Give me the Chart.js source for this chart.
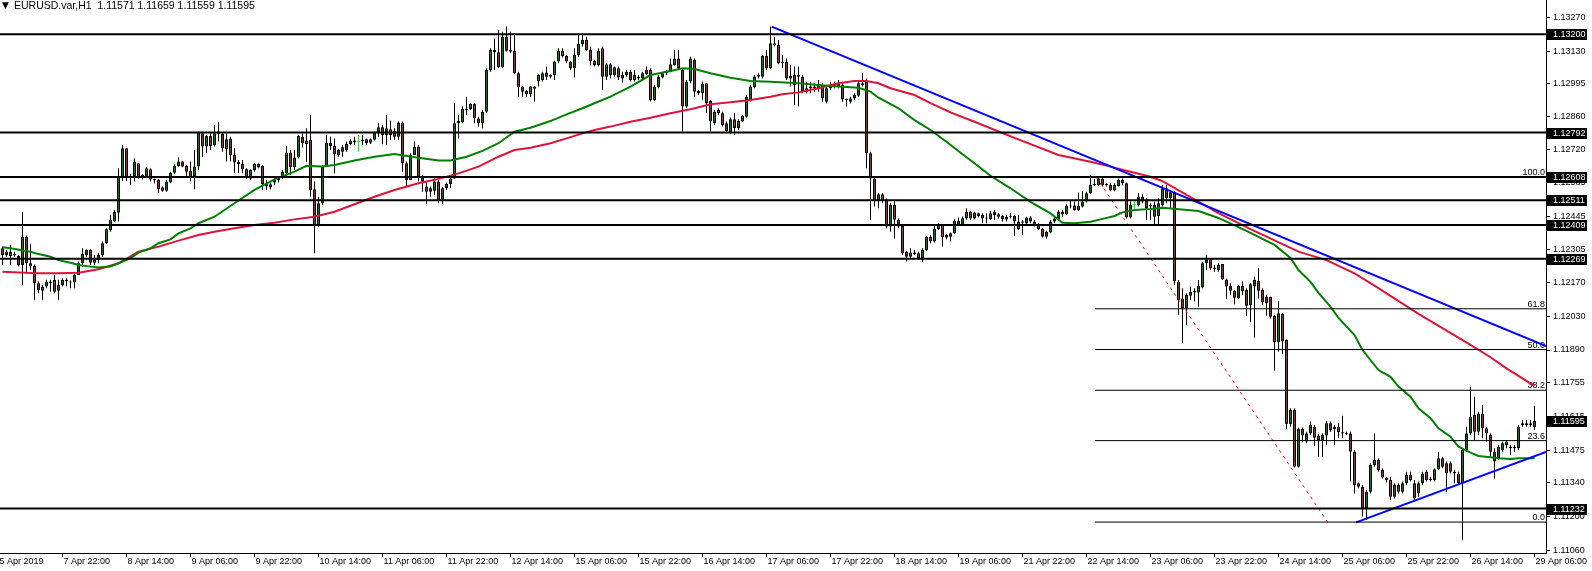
<!DOCTYPE html>
<html>
<head>
<meta charset="utf-8">
<script src="https://cdn.jsdelivr.net/npm/chart.js@4.4.0/dist/chart.umd.min.js"></script>
<style>
html, body { margin: 0; padding: 0; background: #fff; overflow: hidden; }
canvas { display: block; }
</style>
</head>
<body>
<canvas id="chart1" width="1592" height="571"></canvas>
<script>
// EURUSD H1 candles, one value per bar (bar 0 = left edge of the window)
const opens = [
1.12312,1.12298,1.12280,1.12288,1.12280,1.12243,1.12360,1.12250,1.12239,1.12167,
1.12136,1.12153,1.12174,1.12181,1.12136,1.12160,1.12181,1.12174,1.12170,1.12201,
1.12250,1.12284,1.12305,1.12252,1.12264,1.12284,1.12333,1.12388,1.12423,1.12460,
1.12609,1.12727,1.12609,1.12609,1.12665,1.12609,1.12609,1.12640,1.12598,1.12598,
1.12565,1.12551,1.12585,1.12626,1.12654,1.12672,1.12654,1.12633,1.12612,1.12651,
1.12789,1.12734,1.12778,1.12741,1.12796,1.12786,1.12723,1.12768,1.12699,1.12671,
1.12662,1.12640,1.12602,1.12637,1.12662,1.12654,1.12582,1.12565,1.12585,1.12595,
1.12605,1.12623,1.12710,1.12648,1.12689,1.12775,1.12759,1.12762,1.12557,1.12409,
1.12499,1.12654,1.12750,1.12737,1.12699,1.12731,1.12720,1.12745,1.12759,1.12753,
1.12757,1.12765,1.12750,1.12762,1.12792,1.12814,1.12782,1.12806,1.12800,1.12775,
1.12834,1.12665,1.12595,1.12699,1.12734,1.12609,1.12568,1.12561,1.12551,1.12589,
1.12513,1.12561,1.12578,1.12602,1.12831,1.12835,1.12890,1.12890,1.12911,1.12851,
1.12831,1.12879,1.13052,1.13135,1.13125,1.13063,1.13190,1.13135,1.13132,1.13038,
1.12983,1.12965,1.12952,1.12983,1.13004,1.13010,1.13041,1.13031,1.13031,1.13087,
1.13132,1.13110,1.13087,1.13059,1.13114,1.13160,1.13176,1.13135,1.13090,1.13073,
1.13142,1.13024,1.13076,1.13031,1.13059,1.13017,1.13031,1.13045,1.13010,1.13017,
1.13017,1.13052,1.13052,1.12927,1.12980,1.13021,1.13038,1.13045,1.13073,1.13100,
1.13052,1.12900,1.13004,1.13094,1.12965,1.12955,1.12997,1.12924,1.12831,1.12886,
1.12872,1.12831,1.12789,1.12848,1.12810,1.12838,1.12858,1.12927,1.12980,1.13024,
1.13024,1.13111,1.13059,1.13163,1.13156,1.13087,1.13086,1.13017,1.13031,1.13031,
1.13024,1.12962,1.12976,1.12983,1.12976,1.12990,1.12920,1.12976,1.12990,1.12983,
1.12990,1.12927,1.12920,1.12934,1.12945,1.12997,1.13003,1.12706,1.12602,1.12509,
1.12536,1.12515,1.12402,1.12492,1.12430,1.12406,1.12298,1.12277,1.12295,1.12291,
1.12270,1.12305,1.12360,1.12340,1.12392,1.12409,1.12357,1.12360,1.12374,1.12411,
1.12411,1.12437,1.12464,1.12436,1.12457,1.12450,1.12440,1.12434,1.12464,1.12453,
1.12446,1.12443,1.12446,1.12446,1.12423,1.12418,1.12416,1.12440,1.12423,1.12409,
1.12392,1.12360,1.12378,1.12423,1.12432,1.12464,1.12452,1.12490,1.12490,1.12489,
1.12485,1.12506,1.12540,1.12575,1.12575,1.12602,1.12575,1.12575,1.12553,1.12571,
1.12595,1.12582,1.12440,1.12492,1.12492,1.12526,1.12509,1.12485,1.12492,1.12446,
1.12492,1.12561,1.12520,1.12545,1.12174,1.12104,1.12063,1.12115,1.12129,1.12129,
1.12149,1.12250,1.12268,1.12232,1.12222,1.12247,1.12183,1.12156,1.12136,1.12104,
1.12156,1.12139,1.12077,1.12153,1.12176,1.12139,1.12111,1.12111,1.12031,1.11922,
1.12039,1.11932,1.11583,1.11641,1.11406,1.11562,1.11510,1.11544,1.11572,1.11535,
1.11517,1.11535,1.11586,1.11572,1.11572,1.11549,1.11544,1.11544,1.11468,1.11337,
1.11323,1.11233,1.11302,1.11413,1.11434,1.11392,1.11361,1.11351,1.11281,1.11330,
1.11302,1.11337,1.11371,1.11337,1.11295,1.11337,1.11385,1.11351,1.11351,1.11395,
1.11441,1.11420,1.11420,1.11385,1.11378,1.11337,1.11475,1.11544,1.11620,1.11551,
1.11627,1.11565,1.11537,1.11468,1.11441,1.11475,1.11510,1.11489,1.11482,1.11482,
1.11579,1.11586,1.11579,1.11571
];
const highs = [
1.12319,1.12305,1.12326,1.12298,1.12284,1.12464,1.12365,1.12330,1.12245,1.12174,
1.12160,1.12181,1.12181,1.12201,1.12181,1.12188,1.12188,1.12178,1.12205,1.12257,
1.12312,1.12308,1.12308,1.12284,1.12294,1.12340,1.12395,1.12450,1.12470,1.12644,
1.12741,1.12727,1.12620,1.12686,1.12665,1.12620,1.12650,1.12644,1.12602,1.12600,
1.12568,1.12595,1.12630,1.12661,1.12690,1.12675,1.12658,1.12672,1.12720,1.12796,
1.12796,1.12782,1.12789,1.12824,1.12835,1.12789,1.12789,1.12775,1.12727,1.12678,
1.12678,1.12644,1.12640,1.12665,1.12665,1.12658,1.12595,1.12585,1.12605,1.12612,
1.12637,1.12737,1.12720,1.12720,1.12782,1.12789,1.12810,1.12865,1.12589,1.12526,
1.12658,1.12782,1.12775,1.12768,1.12724,1.12741,1.12755,1.12765,1.12775,1.12782,
1.12782,1.12768,1.12768,1.12796,1.12831,1.12824,1.12865,1.12842,1.12810,1.12838,
1.12838,1.12672,1.12706,1.12755,1.12741,1.12616,1.12589,1.12568,1.12602,1.12595,
1.12565,1.12585,1.12616,1.12914,1.12865,1.12900,1.12941,1.12914,1.12914,1.12858,
1.12886,1.13059,1.13142,1.13183,1.13218,1.13211,1.13232,1.13211,1.13204,1.13045,
1.12985,1.12969,1.12985,1.12986,1.13034,1.13045,1.13066,1.13034,1.13090,1.13142,
1.13142,1.13114,1.13090,1.13142,1.13204,1.13204,1.13190,1.13149,1.13094,1.13142,
1.13149,1.13080,1.13080,1.13066,1.13066,1.13045,1.13052,1.13052,1.13052,1.13031,
1.13045,1.13066,1.13059,1.12990,1.13031,1.13045,1.13052,1.13100,1.13135,1.13135,
1.13059,1.13010,1.13107,1.13100,1.12969,1.13004,1.12997,1.12927,1.12886,1.12893,
1.12879,1.12838,1.12855,1.12872,1.12848,1.12865,1.12948,1.12990,1.13031,1.13038,
1.13114,1.13135,1.13232,1.13190,1.13176,1.13114,1.13100,1.13073,1.13066,1.13066,
1.13031,1.13003,1.13003,1.12997,1.13010,1.12997,1.12983,1.13003,1.13003,1.13010,
1.12997,1.12934,1.12941,1.12955,1.13003,1.13038,1.13017,1.12713,1.12609,1.12540,
1.12540,1.12519,1.12500,1.12509,1.12437,1.12409,1.12301,1.12312,1.12305,1.12298,
1.12312,1.12364,1.12367,1.12409,1.12416,1.12412,1.12371,1.12378,1.12433,1.12440,
1.12444,1.12478,1.12468,1.12464,1.12461,1.12457,1.12457,1.12468,1.12471,1.12457,
1.12450,1.12450,1.12457,1.12450,1.12450,1.12429,1.12443,1.12446,1.12429,1.12416,
1.12395,1.12385,1.12429,1.12443,1.12471,1.12471,1.12495,1.12512,1.12506,1.12544,
1.12550,1.12547,1.12616,1.12599,1.12612,1.12612,1.12582,1.12582,1.12582,1.12602,
1.12602,1.12585,1.12506,1.12506,1.12540,1.12536,1.12519,1.12499,1.12506,1.12519,
1.12575,1.12575,1.12555,1.12550,1.12180,1.12146,1.12125,1.12153,1.12146,1.12180,
1.12256,1.12284,1.12270,1.12243,1.12250,1.12247,1.12187,1.12167,1.12139,1.12160,
1.12174,1.12146,1.12167,1.12194,1.12229,1.12146,1.12118,1.12111,1.12035,1.12093,
1.12042,1.11934,1.11648,1.11648,1.11568,1.11568,1.11551,1.11593,1.11579,1.11540,
1.11544,1.11596,1.11593,1.11579,1.11586,1.11617,1.11551,1.11551,1.11475,1.11340,
1.11330,1.11309,1.11420,1.11544,1.11441,1.11399,1.11364,1.11364,1.11337,1.11337,
1.11344,1.11385,1.11385,1.11351,1.11344,1.11385,1.11392,1.11364,1.11399,1.11468,
1.11447,1.11427,1.11427,1.11392,1.11385,1.11482,1.11572,1.11738,1.11696,1.11634,
1.11662,1.11572,1.11544,1.11482,1.11496,1.11510,1.11517,1.11496,1.11496,1.11579,
1.11600,1.11600,1.11600,1.11659
];
const lows = [
1.12243,1.12277,1.12243,1.12277,1.12236,1.12160,1.12208,1.12222,1.12098,1.12125,
1.12098,1.12146,1.12132,1.12125,1.12098,1.12153,1.12153,1.12146,1.12146,1.12201,
1.12236,1.12277,1.12243,1.12243,1.12250,1.12277,1.12330,1.12381,1.12420,1.12423,
1.12591,1.12591,1.12575,1.12589,1.12602,1.12598,1.12605,1.12589,1.12582,1.12543,
1.12547,1.12547,1.12582,1.12620,1.12650,1.12648,1.12609,1.12589,1.12557,1.12637,
1.12692,1.12709,1.12720,1.12734,1.12755,1.12713,1.12672,1.12672,1.12626,1.12623,
1.12623,1.12602,1.12595,1.12630,1.12644,1.12554,1.12554,1.12557,1.12575,1.12585,
1.12602,1.12606,1.12616,1.12637,1.12685,1.12730,1.12671,1.12526,1.12291,1.12399,
1.12492,1.12651,1.12720,1.12623,1.12692,1.12692,1.12713,1.12740,1.12741,1.12713,
1.12741,1.12741,1.12745,1.12759,1.12775,1.12744,1.12741,1.12762,1.12762,1.12762,
1.12630,1.12568,1.12595,1.12699,1.12589,1.12547,1.12495,1.12526,1.12533,1.12499,
1.12496,1.12554,1.12561,1.12602,1.12768,1.12831,1.12865,1.12886,1.12831,1.12817,
1.12810,1.12872,1.13045,1.13052,1.13059,1.13059,1.13128,1.13121,1.13034,1.12941,
1.12941,1.12941,1.12941,1.12921,1.12983,1.13004,1.13010,1.13017,1.13010,1.13080,
1.13104,1.13080,1.13052,1.13021,1.13107,1.13149,1.13132,1.13070,1.13066,1.13066,
1.12969,1.13010,1.13017,1.13024,1.13010,1.13000,1.13024,1.13004,1.13004,1.13010,
1.13010,1.13031,1.12921,1.12924,1.12976,1.13017,1.13031,1.13042,1.13070,1.13052,
1.12796,1.12893,1.12997,1.12941,1.12948,1.12927,1.12872,1.12796,1.12824,1.12865,
1.12817,1.12789,1.12785,1.12782,1.12803,1.12835,1.12855,1.12921,1.12976,1.13017,
1.13017,1.13052,1.13056,1.13149,1.13076,1.13059,1.13010,1.12983,1.12907,1.12900,
1.12955,1.12955,1.12955,1.12962,1.12962,1.12920,1.12913,1.12969,1.12976,1.12976,
1.12920,1.12900,1.12913,1.12927,1.12941,1.12983,1.12644,1.12430,1.12485,1.12478,
1.12499,1.12395,1.12381,1.12353,1.12395,1.12284,1.12257,1.12273,1.12284,1.12264,
1.12254,1.12301,1.12333,1.12336,1.12388,1.12319,1.12350,1.12340,1.12371,1.12406,
1.12406,1.12430,1.12429,1.12432,1.12440,1.12416,1.12416,1.12429,1.12429,1.12436,
1.12423,1.12423,1.12436,1.12364,1.12388,1.12367,1.12409,1.12416,1.12402,1.12388,
1.12357,1.12353,1.12374,1.12416,1.12429,1.12443,1.12450,1.12478,1.12468,1.12467,
1.12481,1.12502,1.12537,1.12571,1.12571,1.12568,1.12568,1.12549,1.12549,1.12568,
1.12575,1.12436,1.12436,1.12471,1.12485,1.12499,1.12429,1.12429,1.12409,1.12412,
1.12485,1.12499,1.12478,1.12160,1.12035,1.11918,1.11994,1.12097,1.12091,1.12070,
1.12146,1.12222,1.12222,1.12215,1.12215,1.12180,1.12102,1.12118,1.12080,1.12102,
1.12118,1.12032,1.12005,1.11941,1.12104,1.12077,1.12032,1.12021,1.11804,1.11883,
1.11872,1.11562,1.11572,1.11402,1.11402,1.11507,1.11503,1.11537,1.11492,1.11448,
1.11445,1.11496,1.11551,1.11496,1.11524,1.11524,1.11537,1.11344,1.11295,1.11316,
1.11199,1.11185,1.11295,1.11406,1.11385,1.11357,1.11340,1.11268,1.11274,1.11295,
1.11295,1.11330,1.11344,1.11261,1.11281,1.11330,1.11344,1.11344,1.11344,1.11392,
1.11399,1.11302,1.11378,1.11337,1.11330,1.11102,1.11468,1.11537,1.11517,1.11537,
1.11524,1.11510,1.11447,1.11357,1.11434,1.11468,1.11482,1.11454,1.11468,1.11475,
1.11572,1.11572,1.11572,1.11559
];
const closes = [
1.12284,1.12284,1.12298,1.12282,1.12243,1.12360,1.12250,1.12236,1.12167,1.12139,
1.12153,1.12174,1.12167,1.12132,1.12160,1.12181,1.12174,1.12170,1.12201,1.12250,
1.12288,1.12305,1.12252,1.12270,1.12284,1.12333,1.12391,1.12430,1.12464,1.12609,
1.12727,1.12609,1.12612,1.12672,1.12609,1.12616,1.12644,1.12598,1.12595,1.12557,
1.12551,1.12589,1.12626,1.12654,1.12672,1.12651,1.12630,1.12609,1.12651,1.12792,
1.12734,1.12778,1.12737,1.12789,1.12786,1.12727,1.12765,1.12699,1.12668,1.12662,
1.12640,1.12609,1.12637,1.12662,1.12648,1.12579,1.12568,1.12578,1.12598,1.12605,
1.12630,1.12710,1.12648,1.12689,1.12778,1.12748,1.12745,1.12554,1.12409,1.12499,
1.12651,1.12750,1.12737,1.12703,1.12720,1.12713,1.12745,1.12759,1.12753,1.12753,
1.12762,1.12748,1.12765,1.12792,1.12814,1.12782,1.12810,1.12782,1.12775,1.12834,
1.12665,1.12595,1.12699,1.12734,1.12609,1.12589,1.12547,1.12547,1.12589,1.12513,
1.12561,1.12579,1.12602,1.12831,1.12841,1.12890,1.12886,1.12911,1.12851,1.12831,
1.12879,1.13052,1.13135,1.13125,1.13063,1.13190,1.13132,1.13128,1.13038,1.12980,
1.12962,1.12952,1.12983,1.12974,1.13031,1.13038,1.13024,1.13024,1.13087,1.13132,
1.13110,1.13087,1.13059,1.13114,1.13160,1.13176,1.13135,1.13087,1.13073,1.13132,
1.13024,1.13076,1.13031,1.13063,1.13021,1.13031,1.13045,1.13010,1.13031,1.13024,
1.13038,1.13034,1.12927,1.12983,1.13024,1.13038,1.13045,1.13076,1.13100,1.13059,
1.12900,1.13004,1.13100,1.12962,1.12955,1.12994,1.12914,1.12838,1.12879,1.12872,
1.12824,1.12799,1.12848,1.12810,1.12841,1.12862,1.12941,1.12983,1.13024,1.13031,
1.13111,1.13059,1.13163,1.13153,1.13080,1.13080,1.13017,1.13028,1.12990,1.13024,
1.12962,1.12976,1.12983,1.12976,1.12990,1.12934,1.12976,1.12990,1.12983,1.12997,
1.12931,1.12931,1.12934,1.12948,1.12997,1.12990,1.12706,1.12602,1.12512,1.12536,
1.12512,1.12402,1.12492,1.12430,1.12402,1.12291,1.12277,1.12295,1.12288,1.12270,
1.12305,1.12360,1.12340,1.12392,1.12409,1.12357,1.12367,1.12374,1.12425,1.12425,
1.12437,1.12464,1.12436,1.12461,1.12446,1.12436,1.12436,1.12457,1.12450,1.12443,
1.12434,1.12432,1.12443,1.12423,1.12392,1.12423,1.12440,1.12423,1.12409,1.12392,
1.12360,1.12381,1.12423,1.12436,1.12464,1.12452,1.12490,1.12485,1.12471,1.12471,
1.12506,1.12540,1.12575,1.12578,1.12602,1.12575,1.12578,1.12553,1.12575,1.12596,
1.12582,1.12440,1.12492,1.12492,1.12526,1.12506,1.12478,1.12492,1.12443,1.12499,
1.12561,1.12520,1.12545,1.12176,1.12097,1.12063,1.12118,1.12132,1.12135,1.12157,
1.12250,1.12273,1.12229,1.12226,1.12243,1.12183,1.12153,1.12136,1.12107,1.12156,
1.12135,1.12074,1.12163,1.12180,1.12136,1.12088,1.12084,1.12028,1.11922,1.12042,
1.11925,1.11583,1.11641,1.11406,1.11562,1.11535,1.11544,1.11579,1.11526,1.11517,
1.11537,1.11586,1.11558,1.11561,1.11549,1.11544,1.11540,1.11468,1.11330,1.11323,
1.11233,1.11302,1.11413,1.11434,1.11392,1.11361,1.11351,1.11281,1.11330,1.11302,
1.11337,1.11371,1.11351,1.11274,1.11337,1.11378,1.11351,1.11357,1.11395,1.11441,
1.11406,1.11378,1.11385,1.11378,1.11337,1.11475,1.11544,1.11613,1.11551,1.11627,
1.11565,1.11544,1.11468,1.11427,1.11489,1.11503,1.11496,1.11482,1.11489,1.11572,
1.11586,1.11579,1.11586,1.11595
];

// moving averages at these bars
const maGreenBars = [0,2,7,9,12,14,17,19,22,24,27,29,32,34,37,39,42,44,47,49,53,58,63,68,73,76,80,83,88,93,98,104,109,112,116,120,124,128,132,137,141,145,148,152,157,162,167,170,173,177,182,187,192,199,204,209,214,217,219,224,228,232,236,240,243,247,252,257,262,265,268,272,275,278,280,283,287,290,299,304,311,318,322,324,327,329,332,334,338,340,344,347,349,352,354,357,359,362,364,367,369,372,374,377,379,383];
const maGreenVals = [1.12316,1.12312,1.12298,1.12288,1.12277,1.12263,1.12252,1.12243,1.12236,1.12232,1.12236,1.12250,1.12271,1.12294,1.12312,1.12333,1.12349,1.12374,1.12395,1.12416,1.12443,1.12499,1.12554,1.12598,1.12630,1.12654,1.12651,1.12658,1.12676,1.12692,1.12703,1.12688,1.12676,1.12676,1.12692,1.12716,1.12748,1.12796,1.12812,1.12840,1.12868,1.12893,1.12914,1.12941,1.12983,1.13031,1.13048,1.13059,1.13056,1.13038,1.13020,1.13006,1.13003,1.12997,1.12990,1.12983,1.12978,1.12962,1.12937,1.12893,1.12844,1.12803,1.12754,1.12702,1.12665,1.12613,1.12561,1.12505,1.12457,1.12418,1.12416,1.12422,1.12434,1.12446,1.12461,1.12471,1.12475,1.12480,1.12467,1.12438,1.12384,1.12326,1.12272,1.12222,1.12173,1.12127,1.12070,1.12023,1.11952,1.11890,1.11807,1.11779,1.11738,1.11696,1.11648,1.11607,1.11565,1.11530,1.11489,1.11464,1.11450,1.11445,1.11441,1.11438,1.11441,1.11441];
const maRedBars = [0,4,9,14,19,24,29,34,39,44,49,53,58,63,68,73,78,83,88,93,98,104,109,114,119,124,128,132,137,141,145,148,152,157,162,167,172,177,182,187,192,195,199,204,209,213,216,219,222,228,232,237,243,253,264,272,277,282,287,290,304,312,324,331,338,343,354,367,372,376,383];
const maRedVals = [1.12215,1.12212,1.12208,1.12208,1.12211,1.12225,1.12250,1.12298,1.12319,1.12344,1.12367,1.12381,1.12395,1.12409,1.12418,1.12432,1.12443,1.12464,1.12495,1.12526,1.12554,1.12582,1.12600,1.12623,1.12651,1.12692,1.12720,1.12729,1.12748,1.12768,1.12789,1.12803,1.12817,1.12837,1.12854,1.12872,1.12889,1.12910,1.12918,1.12927,1.12941,1.12951,1.12959,1.12976,1.12997,1.13006,1.13006,1.12997,1.12976,1.12948,1.12914,1.12876,1.12837,1.12770,1.12699,1.12671,1.12651,1.12630,1.12609,1.12591,1.12458,1.12392,1.12298,1.12263,1.12208,1.12157,1.12040,1.11911,1.11860,1.11814,1.11741];

// objects drawn on the chart
const hLevels = [1.13200, 1.12792, 1.12608, 1.12511, 1.12409, 1.12269, 1.11232];
const fibNames = ['0.0', '23.6', '38.2', '50.0', '61.8', '100.0'];
const fibPrices = [1.11176, 1.11514, 1.11723, 1.11892, 1.12061, 1.12608];
const fibStartBar = 273.1;
const trendUpperBars = [192.3, 385.875];
const trendUpperVals = [1.13232, 1.11906];
const trendLowerBars = [338.4, 385.875];
const trendLowerVals = [1.11175, 1.11467];
const fibDiagBars = [273.4, 331.3];
const fibDiagVals = [1.12608, 1.11175];
const lastPrice = 1.11595;

// axis labels
const priceTicks = [1.13270, 1.13130, 1.12995, 1.12860, 1.12720, 1.12585, 1.12445, 1.12305, 1.12170, 1.12030, 1.11890, 1.11755, 1.11615, 1.11475, 1.11340, 1.11200, 1.11060];
const dateBars = [-1, 15, 31, 47, 63, 79, 95, 111, 127, 143, 159, 175, 191, 207, 223, 239, 255, 271, 287, 303, 319, 335, 351, 367, 383];
const dateLabels = ['5 Apr 2019', '7 Apr 22:00', '8 Apr 14:00', '9 Apr 06:00', '9 Apr 22:00', '10 Apr 14:00', '11 Apr 06:00', '11 Apr 22:00', '12 Apr 14:00', '15 Apr 06:00', '15 Apr 22:00', '16 Apr 14:00', '17 Apr 06:00', '17 Apr 22:00', '18 Apr 14:00', '19 Apr 06:00', '21 Apr 22:00', '22 Apr 14:00', '23 Apr 06:00', '23 Apr 22:00', '24 Apr 14:00', '25 Apr 06:00', '25 Apr 22:00', '26 Apr 14:00', '29 Apr 06:00'];
const header = 'EURUSD.var,H1  1.11571 1.11659 1.11559 1.11595';

const FONT = '"Liberation Sans", Arial, sans-serif';
const xMin = -0.625, xMax = 385.875;   // 4 px per bar
const yMin = 1.110477, yMax = 1.133423;

const bullColor = '#008000';
const bearColor = '#a52a2a';
const dojiColor = '#00ff00';

const candleColor = i => closes[i] > opens[i] ? bullColor : (closes[i] < opens[i] ? bearColor : dojiColor);
const outlineColor = i => closes[i] === opens[i] ? dojiColor : '#000';

const toPoints = (xs, ys) => xs.map((x, i) => ({ x: x, y: ys[i] }));
const lineSet = (data, color, width, order, dash) => ({
    type: 'line',
    data: data,
    borderColor: color,
    borderWidth: width,
    borderDash: dash || [],
    pointRadius: 0,
    tension: 0,
    fill: false,
    order: order
});

const datasets = [];
// horizontal levels (thick black)
hLevels.forEach(p => datasets.push(lineSet([{ x: xMin, y: p }, { x: xMax, y: p }], '#000', 2, 0)));
// fibonacci levels (thin black)
fibPrices.forEach(p => datasets.push(lineSet([{ x: fibStartBar, y: p }, { x: xMax, y: p }], '#000', 1, 1)));
// trend lines
datasets.push(lineSet(toPoints(trendUpperBars, trendUpperVals), '#0000ff', 2, 1));
datasets.push(lineSet(toPoints(trendLowerBars, trendLowerVals), '#0000ff', 2, 1));
datasets.push(lineSet(toPoints(fibDiagBars, fibDiagVals), '#ff0000', 1, 1, [3, 4]));
// moving averages
datasets.push(lineSet(toPoints(maGreenBars, maGreenVals), '#008000', 2, 2));
datasets.push(lineSet(toPoints(maRedBars, maRedVals), '#dc143c', 2, 2));
// candle bodies
datasets.push({
    type: 'bar',
    data: opens.map((o, i) => ({ x: i, y: [o, closes[i]] })),
    backgroundColor: ctx => candleColor(ctx.dataIndex),
    borderColor: ctx => outlineColor(ctx.dataIndex),
    borderWidth: 1,
    borderSkipped: false,
    inflateAmount: 0,
    minBarLength: 1,
    barThickness: 3,
    grouped: false,
    order: 3
});
// wicks
datasets.push({
    type: 'bar',
    data: lows.map((l, i) => ({ x: i, y: [l, highs[i]] })),
    backgroundColor: ctx => outlineColor(ctx.dataIndex),
    borderWidth: 0,
    inflateAmount: 0,
    barThickness: 1,
    grouped: false,
    order: 4
});

// texts that MT4 draws on top of the chart
const overlays = {
    id: 'overlays',
    beforeDatasetsDraw(chart) {
        const { ctx, chartArea, scales: { y } } = chart;
        ctx.save();
        ctx.font = '9px ' + FONT;
        ctx.fillStyle = '#000';
        ctx.textAlign = 'right';
        ctx.textBaseline = 'alphabetic';
        fibPrices.forEach((p, i) => {
            ctx.fillText(fibNames[i], chartArea.right - 1, y.getPixelForValue(p) - 2);
        });
        ctx.restore();
    },
    afterDraw(chart) {
        const { ctx, chartArea, scales: { y } } = chart;
        ctx.save();
        ctx.font = '9px ' + FONT;
        ctx.textAlign = 'left';
        ctx.textBaseline = 'middle';
        hLevels.concat([lastPrice]).forEach(p => {
            const py = Math.round(y.getPixelForValue(p));
            ctx.fillStyle = '#000';
            ctx.fillRect(chartArea.right + 1, py - 5, 40, 11);
            ctx.fillStyle = '#fff';
            ctx.fillText(p.toFixed(5), chartArea.right + 7, py + 0.5);
        });
        ctx.fillStyle = '#000';
        ctx.font = '9px "DejaVu Sans"';
        ctx.fillText('\u25BC', 2, 6);
        ctx.font = '10.5px ' + FONT;
        ctx.fillText(header, 14, 6);
        ctx.restore();
    }
};

const ctx = document.getElementById('chart1').getContext('2d');
const chart = new Chart(ctx, {
    type: 'bar',
    data: { datasets: datasets },
    options: {
        responsive: false,
        devicePixelRatio: 1,
        animation: false,
        events: [],
        layout: { padding: 0 },
        plugins: {
            legend: { display: false },
            tooltip: { enabled: false },
            title: { display: false }
        },
        scales: {
            x: {
                type: 'linear',
                min: xMin,
                max: xMax,
                offset: false,
                afterBuildTicks: s => { s.ticks = dateBars.map(v => ({ value: v })); },
                afterFit: s => { s.height = 18; s.paddingLeft = 0; s.paddingRight = 0; },
                ticks: {
                    autoSkip: false,
                    maxRotation: 0,
                    minRotation: 0,
                    align: 'start',
                    labelOffset: 1,
                    padding: -1,
                    color: '#000',
                    font: { family: FONT, size: 9 },
                    callback: v => dateLabels[dateBars.indexOf(v)]
                },
                grid: { drawOnChartArea: false, drawTicks: true, tickLength: 4, color: '#000', offset: false },
                border: { display: true, color: '#000', width: 1 }
            },
            y: {
                type: 'linear',
                position: 'right',
                min: yMin,
                max: yMax,
                afterBuildTicks: s => { s.ticks = priceTicks.map(v => ({ value: v })); },
                afterFit: s => { s.width = 46; s.paddingTop = 0; s.paddingBottom = 0; },
                ticks: {
                    autoSkip: false,
                    padding: 3,
                    color: '#000',
                    font: { family: FONT, size: 9 },
                    callback: v => v.toFixed(5)
                },
                grid: { drawOnChartArea: false, drawTicks: true, tickLength: 4, color: '#000' },
                border: { display: true, color: '#000', width: 1 }
            }
        }
    },
    plugins: [overlays]
});
</script>
</body>
</html>
